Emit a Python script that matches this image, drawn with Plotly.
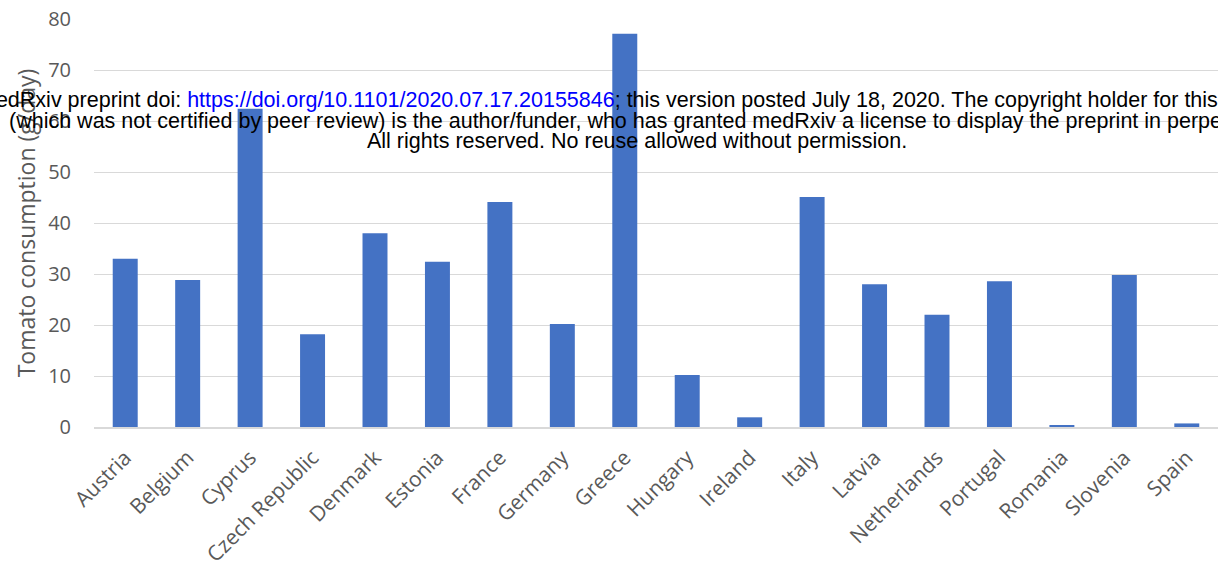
import plotly.graph_objects as go

countries = ["Austria", "Belgium", "Cyprus", "Czech Republic", "Denmark", "Estonia",
             "France", "Germany", "Greece", "Hungary", "Ireland", "Italy", "Latvia",
             "Netherlands", "Portugal", "Romania", "Slovenia", "Spain"]
consumption = [33.0, 28.8, 62.4, 18.2, 38.0, 32.4, 44.1, 20.2, 77.1, 10.2, 1.9, 45.1,
               28.0, 22.0, 28.6, 0.2, 29.8, 0.7]
y_ticks = [0, 10, 20, 30, 40, 50, 60, 70, 80]

header_lines = [
    'medRxiv preprint doi: <span style="color:#0000ff">https://doi.org/10.1101/2020.07.17.20155846</span>; this version posted July 18, 2020. The copyright holder for this preprint',
    "(which was not certified by peer review) is the author/funder, who has granted medRxiv a license to display the preprint in perpetuity.",
    "All rights reserved. No reuse allowed without permission.",
]

fig = go.Figure()
fig.add_trace(go.Bar(x=countries, y=consumption, marker=dict(color="#4472C4", line=dict(width=0)),
                     width=0.4))

ytick_font = dict(family="Open Sans, sans-serif", size=20, color="#595959")
xtick_font = dict(family="Open Sans, sans-serif", size=21, color="#595959")

W, H = 1218, 562
fig.update_layout(
    width=W, height=H,
    margin=dict(l=94, r=0, t=19, b=135, autoexpand=False),
    paper_bgcolor="white", plot_bgcolor="white",
    showlegend=False,
    bargap=0.6,
    xaxis=dict(tickangle=-45, tickfont=xtick_font, showgrid=False, automargin=False,
               showline=True, linecolor="#d9d9d9", linewidth=2, ticks="", ticklabelstandoff=8),
    yaxis=dict(range=[0, 80], tickvals=y_ticks, tickfont=ytick_font, automargin=False,
               showgrid=True, gridcolor="#d9d9d9", gridwidth=1, zeroline=False,
               ticks="", ticklabelstandoff=22,
               title=dict(text="Tomato consumption (g/day)", standoff=6,
                          font=dict(family="Open Sans, sans-serif", size=23, color="#595959"))),
)

ys = [100, 121, 141]
for line, yp in zip(header_lines, ys):
    fig.add_annotation(text=line, xref="paper", yref="paper",
                       x=(637 - 94) / 1124, y=1 - (yp - 19) / 408,
                       xanchor="center", yanchor="middle", showarrow=False,
                       font=dict(family="Liberation Sans, Arial, sans-serif", size=21.5, color="black"))

fig.write_html("out.html", config={"displayModeBar": False},
               post_script="document.body.style.margin='0';document.body.style.overflow='hidden';")
